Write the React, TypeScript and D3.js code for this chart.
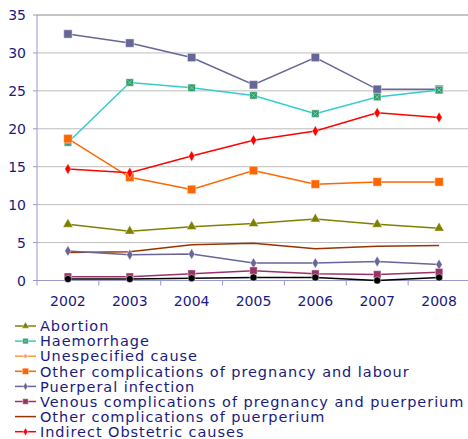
import React from "react";
import * as d3 from "d3";

const years = ["2002", "2003", "2004", "2005", "2006", "2007", "2008"];
const yTicks = [0, 5, 10, 15, 20, 25, 30, 35];

// values, per cause
const topSquares = [32.5, 31.3, 29.4, 25.8, 29.4, 25.2, 25.2];
const abortion = [7.4, 6.5, 7.1, 7.5, 8.1, 7.4, 6.9];
const haemorrhage = [18.2, 26.1, 25.4, 24.4, 22.0, 24.2, 25.1];
const otherPregnancy = [18.7, 13.6, 12.0, 14.5, 12.7, 13.0, 13.0];
const puerperalInfection = [3.9, 3.4, 3.5, 2.3, 2.3, 2.5, 2.1];
const venous = [0.5, 0.5, 0.9, 1.3, 0.9, 0.8, 1.1];
const otherPuerperium = [3.7, 3.8, 4.7, 4.9, 4.2, 4.5, 4.6];
const indirect = [14.7, 14.2, 16.4, 18.5, 19.7, 22.1, 21.5];
const blackDots = [0.2, 0.2, 0.3, 0.4, 0.4, 0.0, 0.4];

type Marker = "triangle" | "square" | "circle" | "diamond" | "none";

interface Series {
  name: string;
  values: number[] | null;
  line: string;
  fill: string;
  marker: Marker;
  size: number;
}

const series: Series[] = [
  { name: "Other", values: topSquares, line: "#666699", fill: "#666699", marker: "square", size: 70 },
  { name: "Haemorrhage", values: haemorrhage, line: "#33CCCC", fill: "#339966", marker: "square", size: 56 },
  { name: "Other complications of pregnancy and labour", values: otherPregnancy, line: "#FF6600", fill: "#FF6600", marker: "square", size: 72 },
  { name: "Indirect Obstetric causes", values: indirect, line: "#FF0000", fill: "#FF0000", marker: "diamond", size: 34 },
  { name: "Abortion", values: abortion, line: "#808000", fill: "#808000", marker: "triangle", size: 44 },
  { name: "Other complications of puerperium", values: otherPuerperium, line: "#993300", fill: "#993300", marker: "none", size: 0 },
  { name: "Puerperal infection", values: puerperalInfection, line: "#666699", fill: "#666699", marker: "diamond", size: 34 },
  { name: "Venous complications of pregnancy and puerperium", values: venous, line: "#993366", fill: "#993366", marker: "square", size: 56 },
  { name: "Deaths", values: blackDots, line: "#000000", fill: "#000000", marker: "circle", size: 40 },
  { name: "Unespecified cause", values: null, line: "#FF9933", fill: "#FF9999", marker: "circle", size: 25 },
];

const legendOrder = [
  "Abortion",
  "Haemorrhage",
  "Unespecified cause",
  "Other complications of pregnancy and labour",
  "Puerperal infection",
  "Venous complications of pregnancy and puerperium",
  "Other complications of puerperium",
  "Indirect Obstetric causes",
];

const W = 468;
const H = 439;
const plot = { left: 37, right: 470, top: 15, bottom: 280.5 };
const textColor = "#1A1A80";
const font = "DejaVu Sans, Verdana, sans-serif";

const symbolOf = (m: Marker) =>
  m === "triangle" ? d3.symbolTriangle : m === "square" ? d3.symbolSquare : m === "diamond" ? d3.symbolDiamond : d3.symbolCircle;

const MarkerShape: React.FC<{ s: Series; x: number; y: number; scale?: number }> = ({ s, x, y, scale = 1 }) => {
  if (s.marker === "none") return null;
  const path = d3.symbol().type(symbolOf(s.marker)).size(s.size * scale)();
  const half = Math.sqrt(s.size * scale) / 2 - 1.5;
  return (
    <g transform={`translate(${x},${y})`}>
      <path d={path || ""} fill={s.fill} stroke="#ffffff" strokeOpacity={0.45} strokeWidth={1} />
      {s.name === "Haemorrhage" && (
        <path
          d={`M${-half},${-half}L${half},${half}M${half},${-half}L${-half},${half}`}
          stroke="#7FE0C0"
          strokeWidth={0.8}
        />
      )}
    </g>
  );
};

export default function App() {
  const x = d3.scaleBand<string>().domain(years).range([plot.left, plot.right]);
  const cx = (d: string) => (x(d) ?? 0) + x.bandwidth() / 2;
  const y = d3.scaleLinear().domain([0, 35]).range([plot.bottom, plot.top]);

  const line = d3
    .line<number>()
    .x((_, i) => cx(years[i]))
    .y((v) => y(v));

  const byName = (n: string) => series.find((s) => s.name === n)!;

  return (
    <svg width={W} height={H} style={{ position: "absolute", left: 0, top: 0, background: "#fff" }}>
      {/* gridlines */}
      {yTicks.slice(1).map((t) => (
        <line
          key={t}
          x1={plot.left}
          x2={plot.right}
          y1={y(t)}
          y2={y(t)}
          stroke={t === 35 ? "#888888" : "#BDBDBD"}
          strokeWidth={1}
        />
      ))}
      {/* axes */}
      <line x1={plot.left} x2={plot.left} y1={plot.top} y2={plot.bottom} stroke="#9999CC" strokeWidth={1} />
      <line x1={plot.left} x2={plot.right} y1={plot.bottom} y2={plot.bottom} stroke="#9999CC" strokeWidth={1} />
      {years.map((yr) => (
        <line
          key={yr}
          x1={(x(yr) ?? 0) + x.bandwidth()}
          x2={(x(yr) ?? 0) + x.bandwidth()}
          y1={plot.bottom}
          y2={plot.bottom + 5}
          stroke="#9999CC"
        />
      ))}
      <line x1={plot.left} x2={plot.left} y1={plot.bottom} y2={plot.bottom + 5} stroke="#9999CC" />
      {yTicks.map((t) => (
        <g key={t}>
          <line x1={plot.left - 4} x2={plot.left} y1={y(t)} y2={y(t)} stroke="#9999CC" />
          <text
            x={26}
            y={y(t)}
            dy="0.36em"
            textAnchor="end"
            fontFamily={font}
            fontSize={14}
            fill={textColor}
          >
            {t}
          </text>
        </g>
      ))}
      {years.map((yr) => (
        <text
          key={yr}
          x={cx(yr)}
          y={301}
          dy="0.36em"
          textAnchor="middle"
          fontFamily={font}
          fontSize={14}
          fill={textColor}
        >
          {yr}
        </text>
      ))}

      {/* series */}
      {series
        .filter((s) => s.values)
        .map((s) => (
          <g key={s.name}>
            <path d={line(s.values!) || ""} fill="none" stroke={s.line} strokeWidth={1.5} />
            {s.values!.map((v, i) => (
              <MarkerShape key={i} s={s} x={cx(years[i])} y={y(v)} />
            ))}
          </g>
        ))}

      {/* legend */}
      {legendOrder.map((n, i) => {
        const s = byName(n);
        const ly = 326 + i * 15.1;
        return (
          <g key={n}>
            <line x1={15} x2={36} y1={ly} y2={ly} stroke={s.line} strokeWidth={1.5} />
            <MarkerShape s={s} x={25.5} y={ly} scale={0.55} />
            <text
              x={40}
              y={ly}
              dy="0.36em"
              fontFamily={font}
              fontSize={14.5}
              letterSpacing={0.95}
              fill={textColor}
            >
              {n}
            </text>
          </g>
        );
      })}
    </svg>
  );
}
